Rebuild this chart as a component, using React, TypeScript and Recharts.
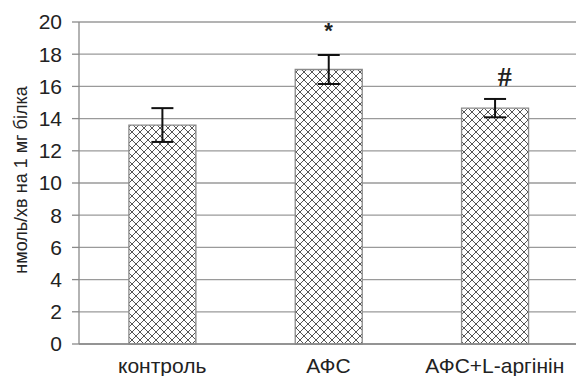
import React from 'react';
import { ComposedChart, Bar, XAxis, YAxis, CartesianGrid, ErrorBar, Scatter } from 'recharts';

const categories = ['контроль', 'АФС', 'АФС+L-аргінін'];
const values = [13.6, 17.05, 14.65];
const errors = [1.05, 0.9, 0.57];
const marks = ['', '*', '#'];
const markLevels = [null, 19.5, 16.6];
const yTicks = [0, 2, 4, 6, 8, 10, 12, 14, 16, 18, 20];
const yLabel = 'нмоль/хв на 1 мг білка';

const data = categories.map((c, i) => ({
  name: c,
  value: values[i],
  err: errors[i],
  mark: marks[i],
  markY: markLevels[i],
}));

const FONT = '"Liberation Sans", Arial, sans-serif';

const MarkShape = (props: any) => {
  const { cx, cy, payload } = props;
  if (!payload || !payload.mark) return null;
  const isHash = payload.mark === '#';
  return (
    <text
      x={cx + (isHash ? 10 : 0)}
      y={cy}
      textAnchor="middle"
      dominantBaseline="central"
      fontFamily={isHash ? '"Liberation Serif", serif' : FONT}
      fontWeight="bold"
      fontSize={isHash ? 28 : 22}
      fill="#222"
    >
      {payload.mark}
    </text>
  );
};

const YLabel = (props: any) => {
  const vb = props.viewBox || {};
  const cx = vb.x + 21;
  const cy = vb.y + vb.height / 2 - 3;
  return (
    <text
      x={cx}
      y={cy}
      transform={`rotate(-90, ${cx}, ${cy})`}
      textAnchor="middle"
      dominantBaseline="central"
      fontFamily={FONT}
      fontSize={18}
      fill="#222"
    >
      {yLabel}
    </text>
  );
};

export default function App() {
  return (
    <div style={{ position: 'absolute', left: 0, top: 0, width: 576, height: 376, overflow: 'hidden', background: '#fff' }}>
      <ComposedChart
        width={578}
        height={376}
        data={data}
        margin={{ top: 22, right: 0, bottom: 0, left: 0 }}
        barCategoryGap="30%"
      >
        <defs>
          <pattern id="hatch" width="8" height="8" patternUnits="userSpaceOnUse">
            <rect width="8" height="8" fill="#fff" />
            <path d="M0,0 L8,8 M8,0 L0,8" stroke="#555" strokeWidth={1} />
          </pattern>
        </defs>
        <CartesianGrid vertical={false} stroke="#9a9a9a" strokeWidth={1.3} />
        <XAxis
          xAxisId="cat"
          dataKey="name"
          axisLine={{ stroke: '#8a8a8a', strokeWidth: 1.3 }}
          tickLine={false}
          height={32}
          tickSize={6}
          tickMargin={8}
          tick={{ fill: '#222', fontSize: 21, fontFamily: FONT }}
          interval={0}
        />
        <XAxis
          xAxisId="bound"
          type="number"
          domain={[0, 3]}
          ticks={[0, 1, 2, 3]}
          axisLine={false}
          tickSize={6}
          tickLine={{ stroke: '#8a8a8a', strokeWidth: 1.3 }}
          tick={false}
          height={0}
          orientation="bottom"
        />
        <YAxis
          domain={[0, 20]}
          ticks={yTicks}
          width={79}
          axisLine={{ stroke: '#8a8a8a', strokeWidth: 1.3 }}
          tickLine={{ stroke: '#8a8a8a', strokeWidth: 1.3 }}
          tickSize={7}
          tickMargin={10}
          tick={{ fill: '#222', fontSize: 21, fontFamily: FONT }}
          label={{ content: YLabel }}
        />
        <Bar
          xAxisId="cat"
          dataKey="value"
          fill="url(#hatch)"
          stroke="#8a8a8a"
          strokeWidth={1.3}
          isAnimationActive={false}
        >
          <ErrorBar dataKey="err" width={11} stroke="#111" strokeWidth={2} direction="y" />
        </Bar>
        <Scatter
          xAxisId="cat"
          dataKey="markY"
          shape={MarkShape}
          isAnimationActive={false}
        />
      </ComposedChart>
    </div>
  );
}
